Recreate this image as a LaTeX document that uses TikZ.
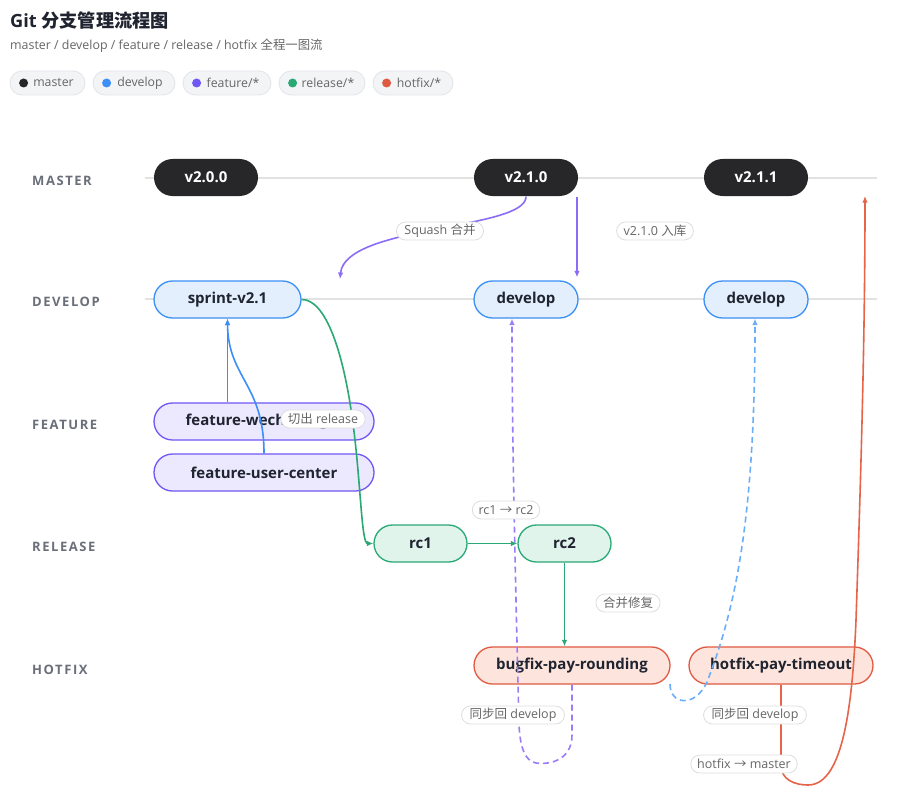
\documentclass[tikz,border=0pt]{standalone}
\usepackage{fontspec}
\setmainfont{Open Sans}
\newfontfamily\cjk{Noto Sans CJK SC}
\newfontfamily\lanefont[LetterSpace=12]{Open Sans}
\usetikzlibrary{shapes.misc,arrows.meta}
\definecolor{cmaster}{HTML}{27272A}
\definecolor{cdev}{HTML}{3B8FF7}
\definecolor{cdevfill}{HTML}{E3EFFD}
\definecolor{cfeat}{HTML}{7056F5}
\definecolor{cfeatfill}{HTML}{ECE9FE}
\definecolor{crel}{HTML}{2AA876}
\definecolor{crelfill}{HTML}{E0F4EC}
\definecolor{chot}{HTML}{E05A42}
\definecolor{chotfill}{HTML}{FDE5DD}
\definecolor{cpurple}{HTML}{8B6CF7}
\definecolor{cpdash}{HTML}{9B7CF8}
\definecolor{cbdash}{HTML}{6AAEF9}
\definecolor{cred}{HTML}{E5654A}
\definecolor{cline}{HTML}{E2E2E2}
\definecolor{cgray}{HTML}{666666}
\definecolor{clane}{HTML}{6B6F7A}
\definecolor{ctext}{HTML}{1F2430}
\definecolor{cpill}{HTML}{F3F4F6}
\definecolor{cpillb}{HTML}{E3E4E8}
\definecolor{clabb}{HTML}{DDDDDD}
\tikzset{
  pill/.style={rounded rectangle, minimum height=37pt, inner sep=0pt, line width=1.3pt,
    font=\fontsize{15}{17}\selectfont\bfseries, text=ctext},
  mnode/.style={pill, fill=cmaster, text=white, minimum width=104pt},
  dnode/.style={pill, fill=cdevfill, draw=cdev},
  fnode/.style={pill, fill=cfeatfill, draw=cfeat, minimum width=220pt},
  rnode/.style={pill, fill=crelfill, draw=crel, minimum width=93pt},
  hnode/.style={pill, fill=chotfill, draw=chot},
  elab/.style={rounded rectangle, fill=white, draw=clabb, line width=0.8pt, text=cgray,
    font=\fontsize{12.5}{14}\selectfont, inner xsep=5pt, inner ysep=0pt, minimum height=18pt},
  legend/.style={rounded rectangle, fill=cpill, draw=cpillb, line width=0.8pt, text=cgray,
    font=\fontsize{12.3}{14}\selectfont, minimum height=24pt, inner sep=0pt},
  lane/.style={anchor=west, inner sep=0pt, text=clane, font=\lanefont\fontsize{13}{15}\selectfont\bfseries},
  laneline/.style={draw=cline, line width=1.2pt},
  arr/.style={-{Latex[length=6.5pt,width=5.5pt]}, line width=1.6pt},
  dsh/.style={dash pattern=on 6pt off 4pt}
}
\begin{document}
\begin{tikzpicture}[x=1pt,y=-1pt]
\useasboundingbox (0,0) rectangle (901,805);
\fill[white] (0,0) rectangle (901,805);

% header
\node[anchor=west, inner sep=0pt, text=ctext, font=\fontsize{18.2}{20}\selectfont\bfseries] (title) at (10,21) {Git {\cjk 分支管理流程图}};
\node[anchor=west, inner sep=0pt, text=cgray, font=\fontsize{12.4}{14}\selectfont] (subtitle) at (10,46) {master / develop / feature / release / hotfix {\cjk 全程一图流}};

% legend
\node[legend, minimum width=75pt] (lgm) at (47.5,83) {\hspace{12pt}master};
\node[legend, minimum width=82pt] (lgd) at (134,83) {\hspace{12pt}develop};
\node[legend, minimum width=88pt] (lgf) at (227,83) {\hspace{12pt}feature/*};
\node[legend, minimum width=86pt] (lgr) at (322,83) {\hspace{12pt}release/*};
\node[legend, minimum width=80pt] (lgh) at (413,83) {\hspace{12pt}hotfix/*};
\fill[cmaster] ([xshift=14pt]lgm.west) circle (4.5pt);
\fill[cdev] ([xshift=14pt]lgd.west) circle (4.5pt);
\fill[cfeat] ([xshift=14pt]lgf.west) circle (4.5pt);
\fill[crel] ([xshift=14pt]lgr.west) circle (4.5pt);
\fill[chot] ([xshift=14pt]lgh.west) circle (4.5pt);

% lanes
\node[lane] (lmaster) at (32,181) {MASTER};
\node[lane] (ldevelop) at (32,302) {DEVELOP};
\node[lane] (lfeature) at (32,425) {FEATURE};
\node[lane] (lrelease) at (32,547) {RELEASE};
\node[lane] (lhotfix) at (32,670) {HOTFIX};
\coordinate (mls) at (145,178);
\coordinate (mle) at (877,178);
\coordinate (dls) at (145,299);
\coordinate (dle) at (877,299);
\draw[laneline] (mls) -- (mle);
\draw[laneline] (dls) -- (dle);

% nodes
\node[mnode] (v200) at (206,177.5) {v2.0.0};
\node[mnode] (v210) at (526,177.5) {v2.1.0};
\node[mnode] (v211) at (756,177.5) {v2.1.1};
\node[dnode, minimum width=147pt] (sp) at (227.5,299.5) {sprint-v2.1};
\node[dnode, minimum width=104pt] (dev1) at (526,299.5) {develop};
\node[dnode, minimum width=104pt] (dev2) at (756,299.5) {develop};
\node[fnode] (fw) at (264,421.5) {feature-wechat-login};
\node[fnode] (fu) at (264,472.5) {feature-user-center};
\node[rnode] (rc1) at (420.5,543.5) {rc1};
\node[rnode] (rc2) at (564.5,543.5) {rc2};
\node[hnode, minimum width=196pt] (bug) at (572,665.5) {bugfix-pay-rounding};
\node[hnode, minimum width=184pt] (hot) at (781,665.5) {hotfix-pay-timeout};

% free ends
\coordinate (sqend) at (340,279);
\coordinate (hsync) at (670,684);
\coordinate (mend) at (865,196);

% edges
\draw[arr, cdev] (fw.north -| sp.south) -- (sp.south);
\draw[arr, cdev] (fu.north) .. controls (264,384) and (228,378) .. (sp.south);
\draw[arr, crel] (sp.east) .. controls (325,299) and (345,350) .. (355,440)
  .. controls (361,494) and (362,543.5) .. (rc1.west);
\draw[arr, cpurple] (v210.south) .. controls (526,230) and (345,225) .. (sqend);
\draw[arr, cpurple] ([xshift=51pt]v210.south) -- ([xshift=51pt,yshift=3pt]dev1.north);
\draw[arr, crel] (rc1.east) -- (rc2.west);
\draw[arr, crel] (rc2.south) -- (rc2.south |- bug.north);
\draw[arr, cpdash, dsh] (bug.south) -- (572,735) .. controls (572,760) and (550,765) .. (536,763)
  .. controls (524,761) and (520,745) .. (519,725)
  .. controls (516,600) and (512,450) .. ([xshift=-14pt]dev1.south);
\draw[arr, cbdash, dsh] (hsync) .. controls (670,705) and (695,708) .. (707,682)
  .. controls (735,610) and (755,520) .. ([xshift=-1pt]dev2.south);
\draw[arr, cred] (hot.south) -- (781,765) .. controls (781,780) and (795,785) .. (808,785)
  .. controls (840,785) and (852,720) .. (856,620)
  .. controls (860,500) and (865,350) .. (mend);

% labels
\node[elab] (lb1) at (323,419) {{\cjk 切出} release};
\node[elab] (lb2) at (440,231) {Squash {\cjk 合并}};
\node[elab] (lb3) at (655,231) {v2.1.0 {\cjk 入库}};
\node[elab] (lb4) at (506,510) {rc1 {\cjk →} rc2};
\node[elab] (lb5) at (628,603) {{\cjk 合并修复}};
\node[elab] (lb6) at (513,715) {{\cjk 同步回} develop};
\node[elab] (lb7) at (755,715) {{\cjk 同步回} develop};
\node[elab] (lb8) at (744,764) {hotfix {\cjk →} master};
\end{tikzpicture}
\end{document}
